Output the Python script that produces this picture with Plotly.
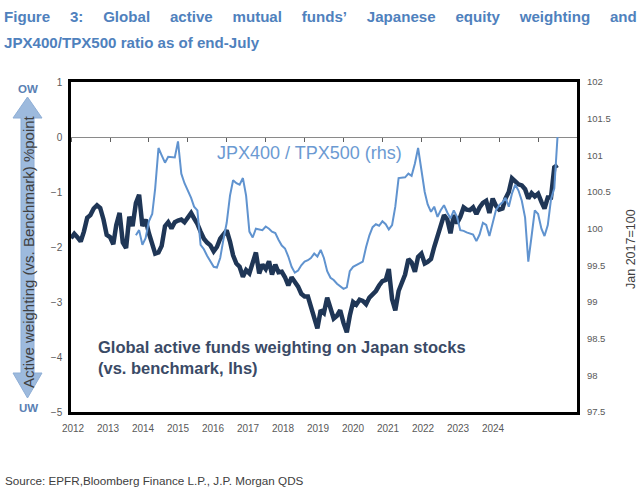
import pandas as pd
import plotly.graph_objects as go

# ---------------- data ----------------
dates = pd.date_range("2012-01-01", "2024-07-01", freq="MS")

weighting = [
    -1.84, -1.76, -1.82, -1.90, -1.72, -1.47, -1.42, -1.30, -1.24, -1.29, -1.50, -1.78,
    -1.82, -1.95, -1.60, -1.38, -1.92, -2.02, -1.45, -1.62, -1.20, -1.05, -1.62, -1.50,
    -1.75, -1.95, -2.12, -2.10, -1.98, -1.62, -1.55, -1.66, -1.55, -1.52, -1.50, -1.55,
    -1.48, -1.38, -1.48, -1.58, -1.72, -1.85, -1.92, -1.97, -2.08, -2.00, -1.85, -1.78,
    -1.70, -1.90, -2.15, -2.30, -2.36, -2.54, -2.42, -2.48, -2.30, -2.10, -2.48, -2.32,
    -2.40, -2.26, -2.50, -2.32, -2.46, -2.45, -2.55, -2.70, -2.55, -2.64, -2.72, -2.85,
    -2.90, -2.90, -3.10, -3.32, -3.48, -3.15, -3.20, -2.92, -3.15, -3.30, -3.25, -3.15,
    -3.38, -3.55, -3.25, -3.00, -3.05, -2.96, -2.98, -3.04, -2.92, -2.86, -2.80, -2.70,
    -2.62, -2.60, -2.40, -2.95, -3.15, -2.80, -2.65, -2.50, -2.22, -2.28, -2.45, -2.18,
    -2.12, -2.30, -2.27, -2.22, -2.00, -1.80, -1.62, -1.42, -1.50, -1.75, -1.42, -1.57,
    -1.45, -1.28, -1.32, -1.33, -1.28, -1.40, -1.28, -1.20, -1.16, -1.38, -1.12, -1.25,
    -1.32, -1.30, -1.12, -1.00, -0.75, -0.80, -0.86, -0.88, -0.95, -1.12, -1.02, -1.08,
    -1.03, -1.18, -1.30, -1.10, -1.10, -0.55, -0.51,
]

ratio = [None] * 20 + [
    99.91, 99.98, 99.78, 99.87,
    100.10, 100.20, 100.55, 101.10, 101.00, 100.90, 100.98, 100.98, 100.97, 101.19, 100.75, 100.62,
    100.53, 100.42, 100.30, 100.25, 99.78, 99.72, 99.63, 99.56, 99.48, 99.47, 99.60, 99.85,
    100.08, 100.45, 100.66, 100.62, 100.60, 100.69, 100.45, 99.96, 99.88, 100.00, 99.99, 99.98,
    100.03, 100.00, 99.96, 99.94, 99.85, 99.77, 99.73, 99.62, 99.48, 99.40, 99.43, 99.50,
    99.55, 99.57, 99.60, 99.66, 99.62, 99.71, 99.60, 99.42, 99.33, 99.30, 99.25, 99.22,
    99.18, 99.20, 99.42, 99.48, 99.50, 99.53, 99.55, 99.75, 99.91, 100.02, 100.06, 100.04,
    100.10, 100.06, 99.99, 100.05, 100.30, 100.69, 100.69, 100.70, 100.75, 100.72, 100.89, 101.10,
    100.80, 100.50, 100.33, 100.23, 100.30, 100.16, 100.25, 100.32, 100.22, 100.14, 100.25, 100.16,
    99.98, 99.97, 99.95, 99.93, 99.92, 99.83, 99.92, 100.08, 100.05, 99.90, 100.10, 100.25,
    100.32, 100.36, 100.42, 100.30, 100.48, 100.60, 100.52, 100.38, 100.15, 99.55, 99.90, 100.25,
    100.20, 100.00, 99.90, 100.05, 100.40, 100.55, 101.25,
]

label_years = list(range(2012, 2025))
year_labels = [str(y) for y in label_years]
left_ticks = [1, 0, -1, -2, -3, -4, -5]

# ---------------- layout helpers ----------------
W, H = 640, 496
L, R, T, B = 71, 577, 82, 412  # plot box in pixels


def px(x):
    return (x - L) / (R - L)


def py(y):
    return (B - y) / (B - T)


FONT = "Liberation Sans, Arial, sans-serif"
NB = "\u00a0"
TS = "\u2009"

fig = go.Figure()

fig.add_trace(go.Scatter(
    x=dates, y=weighting, mode="lines", yaxis="y",
    line=dict(color="#1f3656", width=4.5), showlegend=False, hoverinfo="skip",
))
fig.add_trace(go.Scatter(
    x=dates, y=ratio, mode="lines", yaxis="y2",
    line=dict(color="#6093cf", width=2), showlegend=False, hoverinfo="skip",
    connectgaps=False,
))
# carrier traces so that the helper axes are drawn
fig.add_trace(go.Scatter(x=label_years, y=[None] * len(label_years), xaxis="x3", yaxis="y",
                         mode="markers", showlegend=False, hoverinfo="skip"))
fig.add_trace(go.Scatter(x=[dates[0]], y=[None], xaxis="x2", yaxis="y",
                         mode="markers", showlegend=False, hoverinfo="skip"))

xrange = ["2012-01-01", "2024-12-31"]

fig.update_layout(
    width=W, height=H,
    margin=dict(l=L, r=W - R, t=T, b=H - B),
    paper_bgcolor="white", plot_bgcolor="white",
    xaxis=dict(
        type="date", range=xrange, showgrid=False, zeroline=False,
        showline=True, mirror=True, linecolor="black", linewidth=2.5,
        showticklabels=False, ticks="",
    ),
    xaxis2=dict(
        type="date", range=xrange, overlaying="x", anchor="free",
        position=py(T + 55), side="bottom",
        showgrid=False, zeroline=False, showline=False,
        ticks="outside", ticklen=4, tickwidth=1, tickcolor="#606060",
        tick0="2012-01-01", dtick="M12", showticklabels=False,
    ),
    xaxis3=dict(
        range=[2012 - 2 / 35, 2012 + (R - L - 2) / 35], overlaying="x", anchor="y",
        side="bottom", showgrid=False, zeroline=False, showline=False,
        tickmode="array", tickvals=label_years, ticktext=year_labels,
        ticks="outside", ticklen=7, tickcolor="rgba(0,0,0,0)",
        tickfont=dict(family=FONT, size=10, color="#595959"),
    ),
    yaxis=dict(
        range=[-5, 1], tickvals=left_ticks, showgrid=False,
        zeroline=True, zerolinecolor="#8a8a8a", zerolinewidth=1,
        showline=True, mirror=True, linecolor="black", linewidth=2.5,
        ticks="outside", ticklen=4, tickcolor="rgba(0,0,0,0)",
        tickfont=dict(family=FONT, size=10, color="#595959"),
    ),
    yaxis2=dict(
        range=[97.5, 102], dtick=0.5, overlaying="y", side="right",
        showgrid=False, zeroline=False, showline=False,
        ticks="outside", ticklen=7, tickcolor="rgba(0,0,0,0)",
        tickfont=dict(family=FONT, size=9.5, color="#595959"),
    ),
)

# Double-headed arrow on the left
pts = [(27.5, 97), (13, 118), (21, 118), (21, 373), (13, 373), (27.5, 398),
       (42, 373), (34, 373), (34, 118), (42, 118)]
path = "M " + " L ".join(f"{px(x)},{py(y)}" for x, y in pts) + " Z"
fig.add_shape(type="path", path=path, xref="paper", yref="paper",
              fillcolor="#9dbadd", line=dict(color="#8eaed6", width=1), layer="below")

title1 = (NB * 4 + TS).join("Figure 3: Global active mutual funds’ Japanese equity weighting and".split(" "))
ann = []
ann.append(dict(text="<b>" + title1 + "</b>",
                x=px(2), y=py(17), xanchor="left", yanchor="middle",
                font=dict(family=FONT, size=15.1, color="#4f81bd")))
ann.append(dict(text="<b>JPX400/TPX500 ratio as of end-July</b>",
                x=px(2), y=py(42), xanchor="left", yanchor="middle",
                font=dict(family=FONT, size=15.1, color="#4f81bd")))
ann.append(dict(text="<b>OW</b>", x=px(28), y=py(89), xanchor="center", yanchor="middle",
                font=dict(family=FONT, size=11.5, color="#5a80b3")))
ann.append(dict(text="<b>UW</b>", x=px(28), y=py(408), xanchor="center", yanchor="middle",
                font=dict(family=FONT, size=11.5, color="#5a80b3")))
ann.append(dict(text="Active weighting (vs. Benchmark) %point", textangle=-90,
                x=px(28), y=py(252), xanchor="center", yanchor="middle",
                font=dict(family=FONT, size=15, color="#404040")))
ann.append(dict(text="Jan 2017=100", textangle=-90,
                x=px(631), y=py(249), xanchor="center", yanchor="middle",
                font=dict(family=FONT, size=12.5, color="#404040")))
ann.append(dict(text="JPX400 / TPX500 (rhs)",
                x=px(215), y=py(153), xanchor="left", yanchor="middle",
                font=dict(family=FONT, size=18, color="#6b9ad2")))
ann.append(dict(text="<b>Global active funds weighting on Japan stocks</b>",
                x=px(96), y=py(347), xanchor="left", yanchor="middle",
                font=dict(family=FONT, size=16.5, color="#3a4a66")))
ann.append(dict(text="<b>(vs. benchmark, lhs)</b>",
                x=px(96), y=py(368), xanchor="left", yanchor="middle",
                font=dict(family=FONT, size=16.5, color="#3a4a66")))
ann.append(dict(text="Source: EPFR,Bloomberg Finance L.P., J.P. Morgan QDS",
                x=px(3), y=py(481), xanchor="left", yanchor="middle",
                font=dict(family=FONT, size=11.7, color="#404040")))

for a in ann:
    a.update(xref="paper", yref="paper", showarrow=False)
fig.update_layout(annotations=ann)

fig.write_html("out.html", config={"displayModeBar": False},
               post_script="document.body.style.margin='0';")
